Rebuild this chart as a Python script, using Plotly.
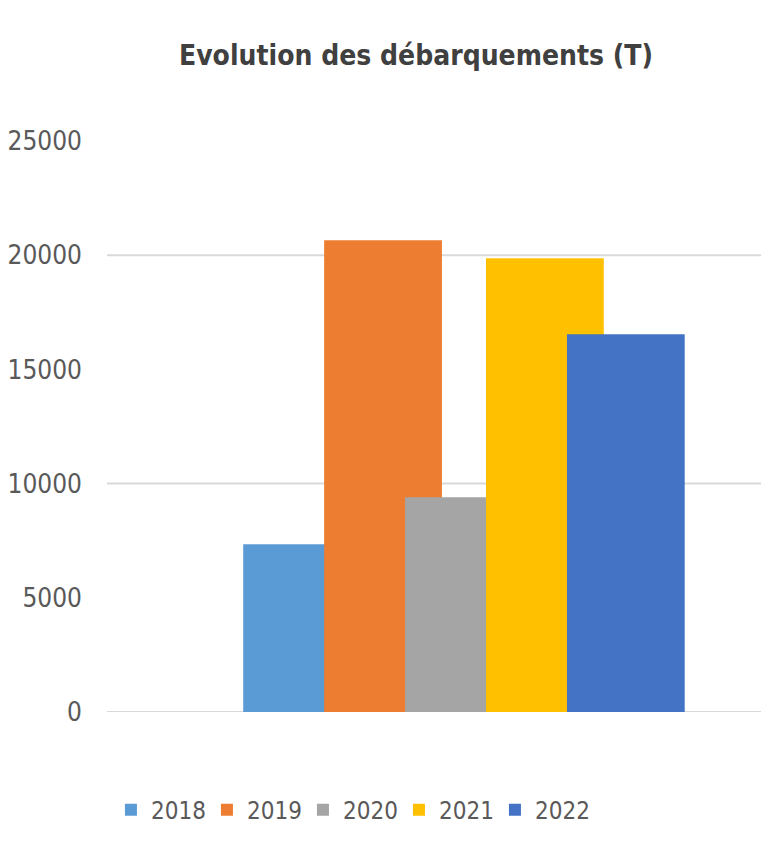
import plotly.graph_objects as go

years = ["2018", "2019", "2020", "2021", "2022"]
landings = [7350, 20650, 9400, 19870, 16540]
colors = ["#5B9BD5", "#ED7D31", "#A5A5A5", "#FFC000", "#4472C4"]
category = ["Débarquements"]
y_ticks = [0, 5000, 10000, 15000, 20000, 25000]
grid_ticks = [0, 10000, 20000]

FONT = "DejaVu Sans Condensed, DejaVu Sans"

fig = go.Figure()
start, step, width = -0.293, 0.123, 0.179
for i, (yr, v, c) in enumerate(zip(years, landings, colors)):
    fig.add_trace(go.Bar(
        x=category, y=[v], name=yr, marker_color=c, marker_line_width=0,
        offset=start + i * step, width=width,
    ))

for g in grid_ticks:
    fig.add_shape(type="line", xref="paper", yref="y", x0=0, x1=1, y0=g, y1=g,
                  line=dict(color="#D9D9D9", width=2), layer="below")

fig.update_layout(
    width=769, height=850,
    barmode="overlay",
    paper_bgcolor="white", plot_bgcolor="white",
    margin=dict(l=99, r=12, t=133, b=146, autoexpand=False),
    title=dict(text="<b>Evolution des débarquements (T)</b>", x=408/769, xanchor="center",
               y=1 - 47/850, yanchor="middle",
               font=dict(family=FONT, size=28, color="#404040")),
    xaxis=dict(range=[-0.5, 0.5], showticklabels=False, showgrid=False, zeroline=False,
               showline=False, fixedrange=True, automargin=False),
    yaxis=dict(range=[0, 25000], tickvals=y_ticks, tickformat="d", showgrid=False,
               zeroline=False, showline=False, ticklabelstandoff=24, automargin=False,
               tickfont=dict(family=FONT, size=26, color="#595959")),
    legend=dict(orientation="h", x=0.006, xanchor="left", y=-0.172, yanchor="middle",
                entrywidth=51, entrywidthmode="pixels",
                font=dict(family=FONT, size=24, color="#595959")),
    showlegend=True,
)
fig.write_html("out.html")
